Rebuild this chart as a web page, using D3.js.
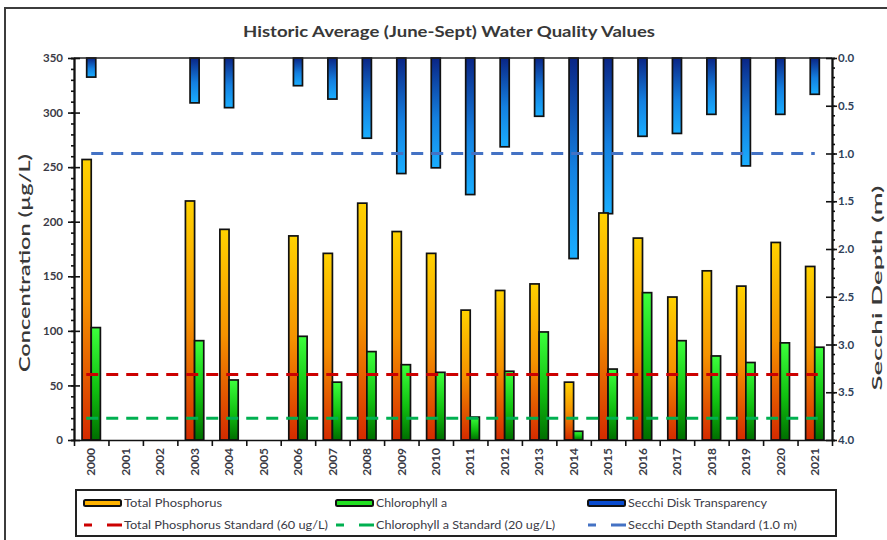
<!DOCTYPE html>
<html>
<head>
<meta charset="utf-8">
<script src="https://cdn.jsdelivr.net/npm/d3@7"></script>
<style>
  html, body { margin: 0; padding: 0; background: #fff; }
  svg { display: block; font-family: Lato, "Open Sans", sans-serif; }
</style>
</head>
<body>
<svg id="chart" width="887" height="540"></svg>
<script>
// ---------- DATA ----------
const years = ["2000","2001","2002","2003","2004","2005","2006","2007","2008","2009","2010",
               "2011","2012","2013","2014","2015","2016","2017","2018","2019","2020","2021"];
const totalPhosphorus = [257, null, null, 219, 193, null, 187, 171, 217, 191, 171,
                         119, 137, 143, 53, 208, 185, 131, 155, 141, 181, 159];
const chlorophyllA    = [103, null, null, 91, 55, null, 95, 53, 81, 69, 62,
                         21, 63, 99, 8, 65, 135, 91, 77, 71, 89, 85];
const secchiDepth     = [0.20, null, null, 0.47, 0.52, null, 0.29, 0.43, 0.84, 1.21, 1.15,
                         1.43, 0.93, 0.61, 2.10, 1.63, 0.82, 0.79, 0.59, 1.13, 0.59, 0.38];
const tpStandard = 60;
const chlStandard = 20;
const secchiStandard = 1.0;
const leftTicks = [0, 50, 100, 150, 200, 250, 300, 350];
const rightTicks = [0.0, 0.5, 1.0, 1.5, 2.0, 2.5, 3.0, 3.5, 4.0];
const titleText = "Historic Average (June-Sept) Water Quality Values";
const leftTitle = "Concentration (µg/L)";
const rightTitle = "Secchi Depth (m)";
const legendItems = [
  {label: "Total Phosphorus", type: "bar", key: "tp"},
  {label: "Chlorophyll a", type: "bar", key: "chl"},
  {label: "Secchi Disk Transparency", type: "bar", key: "sec"},
  {label: "Total Phosphorus Standard (60 ug/L)", type: "line", key: "tp"},
  {label: "Chlorophyll a Standard (20 ug/L)", type: "line", key: "chl"},
  {label: "Secchi Depth Standard (1.0 m)", type: "line", key: "sec"}
];
// measured text lengths in the reference (px)
const legendLengths = [98, 71, 139, 204, 179, 169];

// ---------- LAYOUT ----------
const svg = d3.select("#chart");
const L = 74, R = 832, T = 58, B = 440;
const textColor = "#3b3b46";

// outer chart border
svg.append("rect").attr("x", 5).attr("y", 8).attr("width", 900).attr("height", 560)
  .attr("fill", "#fff").attr("stroke", "#3c3c3c").attr("stroke-width", 2);

// gradients
const defs = svg.append("defs");
function grad(id, stops) {
  const g = defs.append("linearGradient").attr("id", id)
    .attr("x1", 0).attr("y1", 0).attr("x2", 0).attr("y2", 1);
  stops.forEach(s => g.append("stop").attr("offset", s[0]).attr("stop-color", s[1]));
}
grad("gTP", [["0%", "#FFD200"], ["50%", "#F59300"], ["100%", "#D42A00"]]);
grad("gCHL", [["0%", "#3CFF3C"], ["55%", "#10C010"], ["100%", "#006E00"]]);
grad("gSEC", [["0%", "#0A2585"], ["55%", "#1480E0"], ["100%", "#1AAEFF"]]);

const colors = {
  tp: {fill: "url(#gTP)", swatch: "#FFB300", line: "#CC0000"},
  chl: {fill: "url(#gCHL)", swatch: "#22E022", line: "#00B050"},
  sec: {fill: "url(#gSEC)", swatch: "#0A4CD0", line: "#4472C4"}
};

// ---------- SCALES ----------
const x = d3.scaleBand().domain(years).range([L, R]).padding(0);
const xSub = d3.scaleBand().domain(["tp", "chl"]).range([0, x.bandwidth()]).paddingInner(0).paddingOuter(0.88);
const xSec = d3.scaleBand().domain(["sec"]).range([0, x.bandwidth()]).paddingOuter(1.4);
const xBound = d3.scaleLinear().domain([0, years.length]).range([L, R]);
const yL = d3.scaleLinear().domain([0, 350]).range([B, T]);
const yR = d3.scaleLinear().domain([0, 4]).range([T, B]);

// ---------- BARS ----------
const g = svg.append("g");
const tpData = years.map((yr, i) => ({yr, v: totalPhosphorus[i]})).filter(d => d.v != null);
const chlData = years.map((yr, i) => ({yr, v: chlorophyllA[i]})).filter(d => d.v != null);
const secData = years.map((yr, i) => ({yr, v: secchiDepth[i]})).filter(d => d.v != null);

g.selectAll(".sec").data(secData).join("rect")
  .attr("x", d => x(d.yr) + xSec("sec")).attr("width", xSec.bandwidth())
  .attr("y", yR(0)).attr("height", d => yR(d.v) - yR(0))
  .attr("fill", colors.sec.fill).attr("stroke", "#111").attr("stroke-width", 1.7);

g.selectAll(".tp").data(tpData).join("rect")
  .attr("x", d => x(d.yr) + xSub("tp")).attr("width", xSub.bandwidth())
  .attr("y", d => yL(d.v)).attr("height", d => yL(0) - yL(d.v))
  .attr("fill", colors.tp.fill).attr("stroke", "#111").attr("stroke-width", 1.7);

g.selectAll(".chl").data(chlData).join("rect")
  .attr("x", d => x(d.yr) + xSub("chl")).attr("width", xSub.bandwidth())
  .attr("y", d => yL(d.v)).attr("height", d => yL(0) - yL(d.v))
  .attr("fill", colors.chl.fill).attr("stroke", "#111").attr("stroke-width", 1.7);

// ---------- STANDARD LINES ----------
const xFirst = x(years[0]) + x.bandwidth() / 2;
const xLast = x(years[years.length - 1]) + x.bandwidth() / 2;
const stdLines = [
  {y: yR(secchiStandard), c: colors.sec.line, x0: xFirst, x1: xLast},
  {y: yL(tpStandard), c: colors.tp.line, x0: xFirst - 5, x1: xLast + 3},
  {y: yL(chlStandard), c: colors.chl.line, x0: xFirst - 5, x1: xLast + 3}
];
svg.selectAll(".std").data(stdLines).join("line")
  .attr("x1", d => d.x0).attr("x2", d => d.x1)
  .attr("y1", d => d.y).attr("y2", d => d.y)
  .attr("stroke", d => d.c).attr("stroke-width", 3).attr("stroke-dasharray", "12,8");

// ---------- AXES ----------
svg.append("line").attr("x1", L).attr("x2", R).attr("y1", T).attr("y2", T)
  .attr("stroke", "#222").attr("stroke-width", 1.5);

function styleAxis(sel) {
  sel.selectAll("path").attr("stroke", "#111").attr("stroke-width", 1.6);
  sel.selectAll("line").attr("stroke", "#111").attr("stroke-width", 1.6);
  sel.selectAll("text").attr("fill", textColor).attr("font-weight", 700)
    .attr("font-size", 11.5).attr("font-family", "Lato, sans-serif");
}

const minorL = d3.range(0, 351, 10);
svg.append("g").attr("transform", `translate(${L},0)`)
  .call(d3.axisLeft(yL).tickValues(minorL).tickSize(3).tickFormat(""))
  .call(styleAxis);
svg.append("g").attr("transform", `translate(${L},0)`)
  .call(d3.axisRight(yL).tickValues(leftTicks).tickSize(6).tickSizeOuter(0).tickFormat(""))
  .call(styleAxis);
svg.append("g").attr("transform", `translate(${L},0)`)
  .call(d3.axisLeft(yL).tickValues(leftTicks).tickSize(6).tickSizeOuter(0).tickPadding(5).tickFormat(d3.format("d")))
  .call(styleAxis);

const minorR = d3.range(0, 41).map(d => d / 10);
svg.append("g").attr("transform", `translate(${R},0)`)
  .call(d3.axisRight(yR).tickValues(minorR).tickSize(3).tickFormat(""))
  .call(styleAxis);
svg.append("g").attr("transform", `translate(${R},0)`)
  .call(d3.axisLeft(yR).tickValues(rightTicks).tickSize(6).tickSizeOuter(0).tickFormat(""))
  .call(styleAxis);
svg.append("g").attr("transform", `translate(${R},0)`)
  .call(d3.axisRight(yR).tickValues(rightTicks).tickSize(5).tickSizeOuter(0).tickPadding(1).tickFormat(d3.format(".1f")))
  .call(styleAxis)
  .selectAll("text").attr("fill", "#2f3f5a");

// x axis: ticks at category boundaries
svg.append("g").attr("transform", `translate(0,${B})`)
  .call(d3.axisBottom(xBound).tickValues(d3.range(0, years.length + 1)).tickSize(6).tickSizeOuter(0).tickFormat(""))
  .call(styleAxis);
const xLab = svg.append("g").attr("transform", `translate(0,${B})`)
  .call(d3.axisBottom(x).tickSize(0).tickSizeOuter(0))
  .call(styleAxis);
xLab.select("path").remove();
xLab.selectAll("text")
  .attr("font-size", 12)
  .attr("transform", "rotate(-90)")
  .attr("text-anchor", "end")
  .attr("x", -8).attr("y", 0).attr("dy", "0.35em");

// ---------- TITLES ----------
svg.append("text").attr("x", 449).attr("y", 37).attr("text-anchor", "middle")
  .attr("font-size", 16).attr("font-weight", 700).attr("fill", "#383838")
  .attr("textLength", 412).attr("lengthAdjust", "spacingAndGlyphs")
  .text(titleText);
svg.append("text").attr("transform", `translate(30,263) rotate(-90)`)
  .attr("text-anchor", "middle").attr("font-size", 15).attr("font-weight", 600).attr("fill", "#383838")
  .attr("textLength", 218).attr("lengthAdjust", "spacingAndGlyphs")
  .text(leftTitle);
svg.append("text").attr("transform", `translate(882,288) rotate(-90)`)
  .attr("text-anchor", "middle").attr("font-size", 14).attr("font-weight", 600).attr("fill", "#383838")
  .attr("textLength", 205).attr("lengthAdjust", "spacingAndGlyphs")
  .text(rightTitle);

// ---------- LEGEND ----------
const lg = svg.append("g");
lg.append("rect").attr("x", 76).attr("y", 490).attr("width", 760).attr("height", 46)
  .attr("fill", "#fff").attr("stroke", "#222").attr("stroke-width", 2);
const colX = [84, 336, 588];
const rowY = [503, 525];
legendItems.forEach((it, i) => {
  const cx = colX[i % 3], cy = rowY[Math.floor(i / 3)];
  const c = colors[it.key];
  if (it.type === "bar") {
    lg.append("rect").attr("x", cx).attr("y", cy - 3).attr("width", 37).attr("height", 6)
      .attr("rx", 1.5).attr("fill", c.swatch).attr("stroke", "#111").attr("stroke-width", 2);
  } else {
    lg.append("line").attr("x1", cx).attr("x2", cx + 38).attr("y1", cy).attr("y2", cy)
      .attr("stroke", c.line).attr("stroke-width", 3).attr("stroke-dasharray", "8,15,15");
  }
  lg.append("text").attr("x", cx + 40).attr("y", cy).attr("dy", "0.35em")
    .attr("font-size", 11.5).attr("fill", textColor)
    .attr("textLength", legendLengths[i]).attr("lengthAdjust", "spacingAndGlyphs")
    .text(it.label);
});
</script>
</body>
</html>
